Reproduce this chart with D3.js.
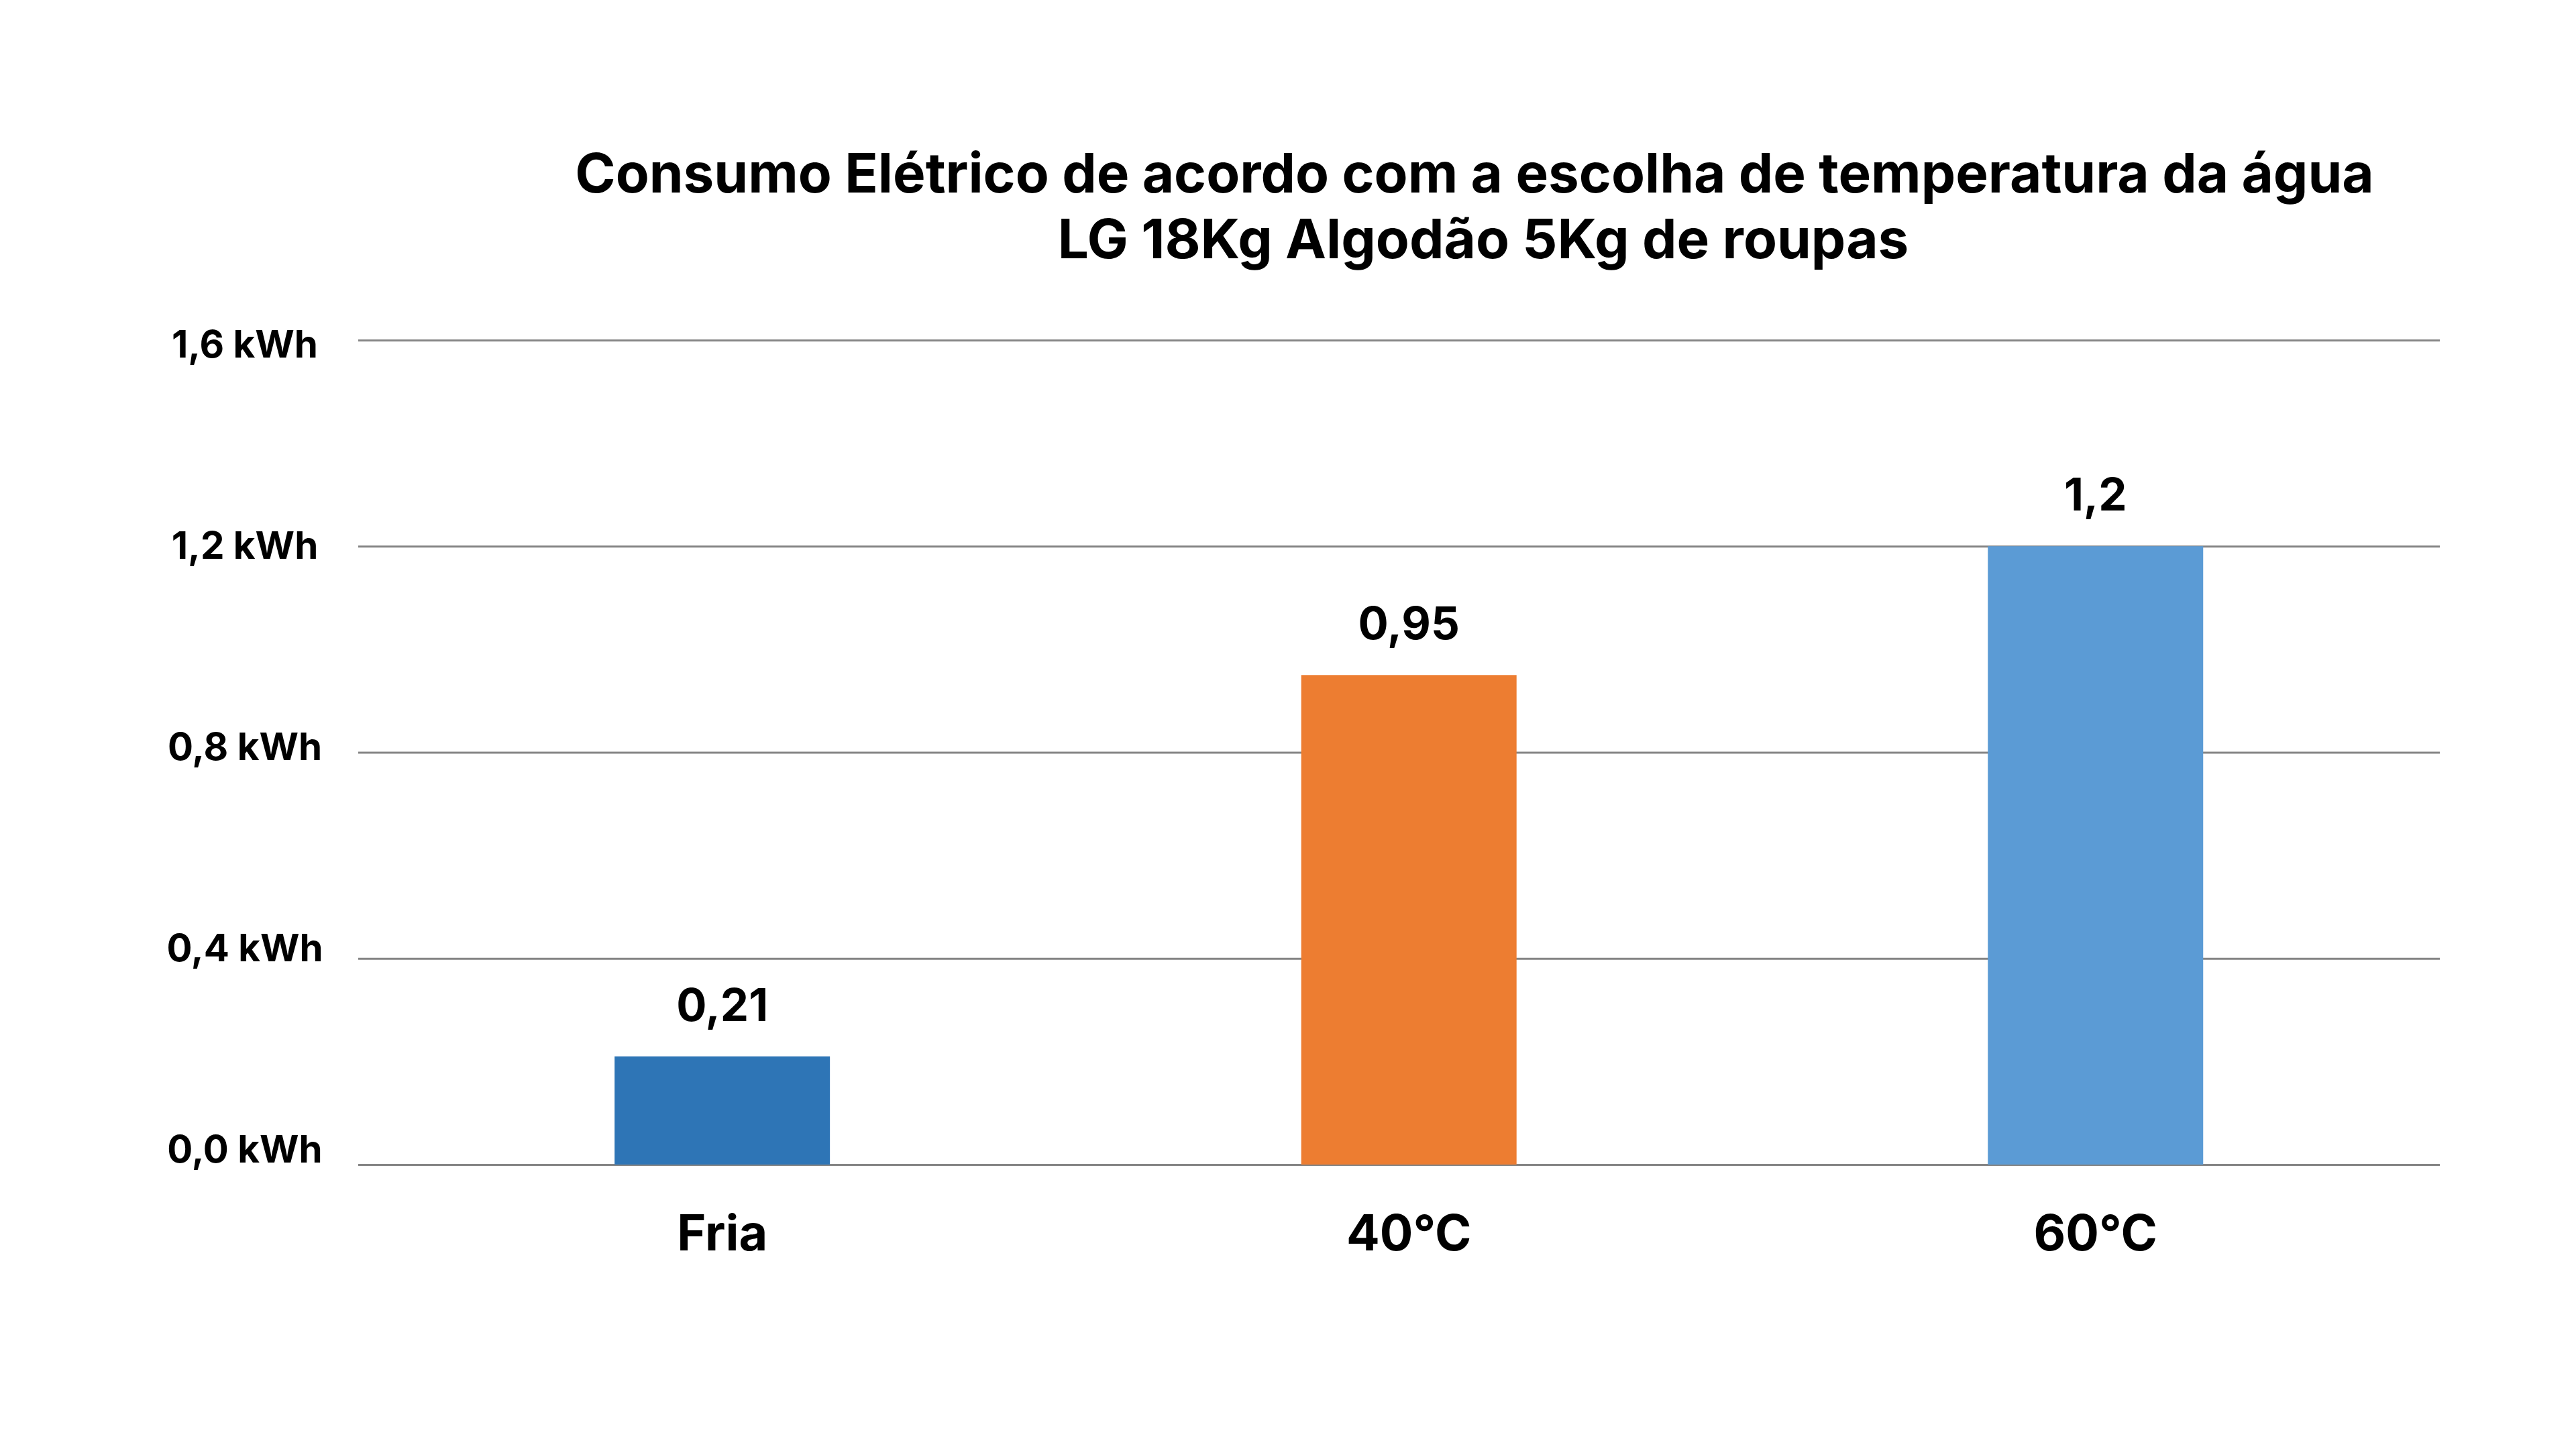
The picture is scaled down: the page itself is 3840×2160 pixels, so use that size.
<!DOCTYPE html>
<html>
<head>
<meta charset="utf-8">
<script src="https://cdn.jsdelivr.net/npm/d3@7/dist/d3.min.js"></script>
<style>
  html, body { margin: 0; padding: 0; background: #ffffff; }
  svg { display: block; }
  text { font-family: Inter, "Noto Sans", sans-serif; font-weight: 700; fill: #000; }
</style>
</head>
<body>
<script>
// ---- data ----
const titleLines = ["Consumo Elétrico de acordo com a escolha de temperatura da água", "LG 18Kg Algodão 5Kg de roupas"];
const categories = ["Fria", "40°C", "60°C"];
const values = [0.21, 0.95, 1.2];
const valueLabels = ["0,21", "0,95", "1,2"];
const barColors = ["#2E75B6", "#ED7D31", "#5B9BD5"];
const yTicks = [0, 0.4, 0.8, 1.2, 1.6];
const yTickLabels = ["0,0 kWh", "0,4 kWh", "0,8 kWh", "1,2 kWh", "1,6 kWh"];

const W = 3840, H = 2160;
const svg = d3.select("body").append("svg").attr("width", W).attr("height", H);

const gridLeft = 534, gridRight = 3637;
const y = d3.scaleLinear().domain([0, 1.6]).range([1736, 507]);
// tick labels sit on their own, slightly tighter, vertical scale
const yLabel = d3.scaleLinear().domain([0, 1.6]).range([1713, 513]);
const x = d3.scaleBand().domain(categories).range([gridLeft, gridRight])
  .paddingInner(0.6864).paddingOuter(0.359).align(0.52);

// fit text font-size to a target width
function fit(sel, targetWidth) {
  sel.style("font-size", "100px");
  const w = sel.node().getComputedTextLength();
  const fs = 100 * targetWidth / w;
  sel.style("font-size", fs + "px");
  return fs;
}

// title
const t1 = svg.append("text").attr("x", 2198).attr("y", 287).attr("text-anchor", "middle").text(titleLines[0]);
const tfs = fit(t1, 2682);
svg.append("text").attr("x", 2211).attr("y", 385).attr("text-anchor", "middle")
  .style("font-size", tfs + "px").text(titleLines[1]);

// gridlines
const yAxis = d3.axisLeft(y).tickValues(yTicks).tickSize(-(gridRight - gridLeft)).tickFormat((d, i) => yTickLabels[i]);
const gy = svg.append("g").attr("transform", `translate(${gridLeft},0)`).call(yAxis);
gy.select(".domain").remove();
gy.selectAll(".tick line").attr("stroke", "#858585").attr("stroke-width", 2.8);
gy.selectAll(".tick text").remove();

// y tick labels (centered in left margin)
const probe = svg.append("text").text(yTickLabels[4]);
const yfs = fit(probe, 218);
probe.remove();
svg.append("g").selectAll("text").data(yTicks).join("text")
  .attr("x", 365)
  .attr("y", d => yLabel(d))
  .attr("dy", "0.36em")
  .attr("text-anchor", "middle")
  .style("font-size", yfs + "px")
  .text((d, i) => yTickLabels[i]);

// bars
svg.append("g").selectAll("rect").data(values).join("rect")
  .attr("x", (d, i) => x(categories[i]))
  .attr("width", x.bandwidth())
  .attr("y", d => y(d))
  .attr("height", d => y(0) - y(d))
  .attr("fill", (d, i) => barColors[i]);

// value labels
const vprobe = svg.append("text").text(valueLabels[0]);
const vfs = fit(vprobe, 137);
vprobe.remove();
svg.append("g").selectAll("text").data(values).join("text")
  .attr("x", (d, i) => x(categories[i]) + x.bandwidth() / 2)
  .attr("y", d => y(d) - 53)
  .attr("text-anchor", "middle")
  .style("font-size", vfs + "px")
  .text((d, i) => valueLabels[i]);

// x labels
const xprobe = svg.append("text").text(categories[0]);
const xfs = fit(xprobe, 135);
xprobe.remove();
const xAxis = d3.axisBottom(x).tickSize(0).tickPadding(0);
const gx = svg.append("g").attr("transform", `translate(0,${y(0)})`).call(xAxis);
gx.select(".domain").remove();
gx.selectAll(".tick text")
  .attr("y", 128).attr("dy", 0)
  .attr("fill", "#000")
  .style("font-family", 'Inter, "Noto Sans", sans-serif')
  .style("font-weight", 700)
  .style("font-size", xfs + "px");
</script>
</body>
</html>
